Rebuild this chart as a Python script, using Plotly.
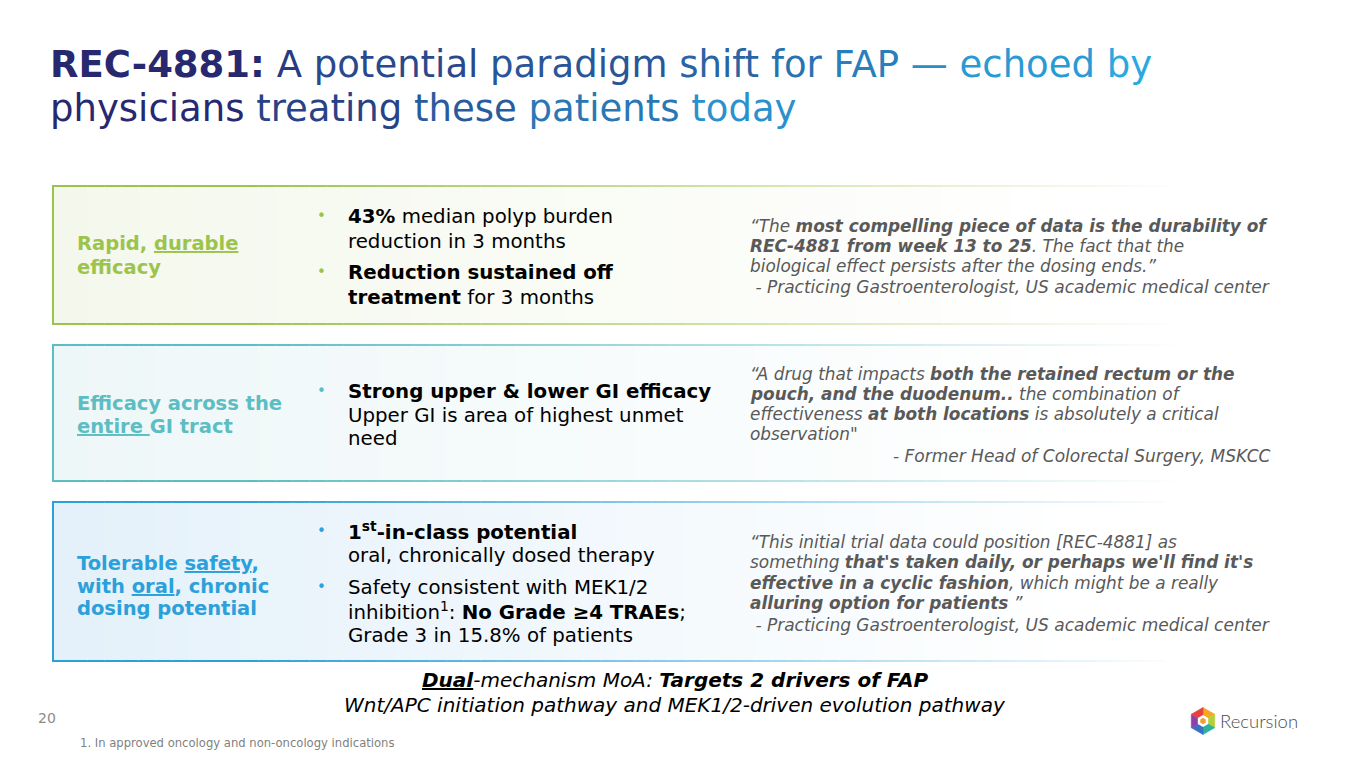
import math
import plotly.graph_objects as go

# ---- slide text ----
TITLE_BOLD = "REC-4881:"
TITLE_LINE1 = "A potential paradigm shift for FAP — echoed by"
TITLE_LINE2 = "physicians treating these patients today"

ROW_LABELS = [
    ["Rapid, <u>durable</u>", "efficacy"],
    ["Efficacy across the", "<u>entire </u>GI tract"],
    ["Tolerable <u>safety</u>,", "with <u>oral</u>, chronic", "dosing potential"],
]
ROW_BULLETS = [
    [["<b>43%</b> median polyp burden", "reduction in 3 months"],
     ["<b>Reduction sustained off</b>", "<b>treatment</b> for 3 months"]],
    [["<b>Strong upper &amp; lower GI efficacy</b>", "Upper GI is area of highest unmet", "need"]],
    [["<b>1<sup>st</sup>-in-class potential</b>", "oral, chronically dosed therapy"],
     ["Safety consistent with MEK1/2", "inhibition<sup>1</sup>: <b>No Grade ≥4 TRAEs</b>;",
      "Grade 3 in 15.8% of patients"]],
]
ROW_QUOTES = [
    ["“The <b>most compelling piece of data is the durability of</b>",
     "<b>REC-4881 from week 13 to 25</b>. The fact that the",
     "biological effect persists after the dosing ends.”"],
    ["“A drug that impacts <b>both the retained rectum or the</b>",
     "<b>pouch, and the duodenum..</b> the combination of",
     "effectiveness <b>at both locations</b> is absolutely a critical",
     "observation\""],
    ["“This initial trial data could position [REC-4881] as",
     "something <b>that's taken daily, or perhaps we'll find it's</b>",
     "<b>effective in a cyclic fashion</b>, which might be a really",
     "<b>alluring option for patients</b> ”"],
]
ROW_SOURCES = [
    " - Practicing Gastroenterologist, US academic medical center",
    "- Former Head of Colorectal Surgery, MSKCC",
    " - Practicing Gastroenterologist, US academic medical center",
]
MOA_LINES = [
    "<b><u>Dual</u></b>-mechanism MoA: <b>Targets 2 drivers of FAP</b>",
    "Wnt/APC initiation pathway and MEK1/2-driven evolution pathway",
]
PAGE_NUMBER = "20"
FOOTNOTE = "1. In approved oncology and non-oncology indications"
LOGO_TEXT = "Recursion"

# ---- styling / placement ----
W, H = 1365, 768
FONT = "DejaVu Sans"
ROW_COLORS = ["#9cc44c", "#5cbdc3", "#2ba0da"]
ROW_TINTS = ["#f4f8ec", "#eef7f8", "#e4f1fa"]
BOX_TOP = [186, 345, 502]
BOX_BOT = [324, 481, 661]
BOX_X0, FADE_X1 = 53, 1250
LABEL_Y = [[243, 267], [403, 426], [563, 586, 608]]
BULLET_Y = [[[216, 241], [272, 297]], [[391, 415, 438]], [[531, 555], [587, 611, 635]]]
QUOTE_Y = [[226, 246, 266, 287], [374, 394, 414, 434, 456], [542, 562, 583, 603, 625]]


def hex2rgb(h):
    h = h.lstrip("#")
    return [int(h[i:i + 2], 16) for i in (0, 2, 4)]


def blend(c1, c2, t):
    a, b = hex2rgb(c1), hex2rgb(c2)
    return "rgb(%d,%d,%d)" % tuple(round(a[i] + (b[i] - a[i]) * t) for i in range(3))


fig = go.Figure()
shapes = []
annotations = []


def text(x, y, s, size=18, color="#000000", anchor="left", italic=False, family=FONT, weight=None):
    f = dict(family=family, size=size, color=color)
    if italic:
        f["style"] = "italic"
    if weight:
        f["weight"] = weight
    annotations.append(dict(x=x, y=y, xref="x", yref="y", text=s, showarrow=False,
                            xanchor=anchor, yanchor="middle", font=f, align=anchor))


# title with a left-to-right colour gradient, word by word
def gradient_words(line, start_t, end_t):
    words = line.split(" ")
    out = []
    for i, w in enumerate(words):
        t = start_t + (end_t - start_t) * i / max(len(words) - 1, 1)
        out.append('<span style="color:%s">%s</span>' % (blend("#282870", "#2aa8e0", t), w))
    return " ".join(out)


title1 = '<b><span style="color:#282870">%s</span></b> ' % TITLE_BOLD + gradient_words(TITLE_LINE1, 0.15, 1.0)
title2 = gradient_words(TITLE_LINE2, 0.0, 0.82)
text(48, 64, title1, size=37)
text(48, 108, title2, size=37)

# gradient boxes
N = 70
step = (FADE_X1 - BOX_X0) / N
for r in range(3):
    y0, y1 = BOX_TOP[r], BOX_BOT[r]
    for i in range(N):
        t = i / (N - 1)
        x0 = BOX_X0 + i * step
        fill = blend(ROW_TINTS[r], "#ffffff", min(1.0, t * 1.15))
        edge = blend(ROW_COLORS[r], "#ffffff", min(1.0, max(0.0, (t - 0.15) * 1.25)))
        shapes.append(dict(type="rect", xref="x", yref="y", x0=x0, x1=x0 + step + 0.6, y0=y0, y1=y1,
                           fillcolor=fill, line=dict(width=0), layer="below"))
        shapes.append(dict(type="rect", xref="x", yref="y", x0=x0, x1=x0 + step + 0.6, y0=y0 - 1, y1=y0 + 1,
                           fillcolor=edge, line=dict(width=0), layer="below"))
        shapes.append(dict(type="rect", xref="x", yref="y", x0=x0, x1=x0 + step + 0.6, y0=y1 - 1, y1=y1 + 1,
                           fillcolor=edge, line=dict(width=0), layer="below"))
    shapes.append(dict(type="rect", xref="x", yref="y", x0=BOX_X0 - 1, x1=BOX_X0 + 1, y0=y0 - 1, y1=y1 + 1,
                       fillcolor=ROW_COLORS[r], line=dict(width=0), layer="below"))

    for line, y in zip(ROW_LABELS[r], LABEL_Y[r]):
        text(75, y, "<b>%s</b>" % line, size=19.5, color=ROW_COLORS[r])

    for bullet, ys in zip(ROW_BULLETS[r], BULLET_Y[r]):
        text(315, ys[0], "•", size=15, color=ROW_COLORS[r])
        for line, y in zip(bullet, ys):
            text(346, y, line, size=19.8)

    qy = QUOTE_Y[r]
    for line, y in zip(ROW_QUOTES[r], qy[:-1]):
        text(748, y, line, size=16.9, color="#595959", italic=True)
    if r == 1:
        text(1273, qy[-1], ROW_SOURCES[r], size=17, color="#595959", italic=True, anchor="right")
    else:
        text(748, qy[-1], ROW_SOURCES[r], size=17, color="#595959", italic=True)

# mechanism line
text(675, 680, MOA_LINES[0], size=20, italic=True, anchor="center")
text(675, 705, MOA_LINES[1], size=20, italic=True, anchor="center")

# footer
text(36, 718, PAGE_NUMBER, size=14, color="#8c8c8c")
text(78, 743, FOOTNOTE, size=11.6, color="#7f7f7f")

# logo hexagon
cx, cy, rad = 1203, 721, 13.5
hex_cols = ["#f5a623", "#b5cf3a", "#2bb39a", "#3a6fc4", "#8e3fa8", "#e8403f"]
pts = [(cx + rad * math.cos(math.radians(-90 + 60 * k)), cy + rad * math.sin(math.radians(-90 + 60 * k)))
       for k in range(7)]
for k in range(6):
    (ax, ay), (bx, by) = pts[k], pts[k + 1]
    shapes.append(dict(type="path", xref="x", yref="y",
                       path="M %.2f %.2f L %.2f %.2f L %.2f %.2f Z" % (cx, cy, ax, ay, bx, by),
                       fillcolor=hex_cols[k], line=dict(width=0.6, color=hex_cols[k])))
inner = [(cx + 6 * math.cos(math.radians(-90 + 60 * k)), cy + 6 * math.sin(math.radians(-90 + 60 * k)))
         for k in range(6)]
shapes.append(dict(type="path", xref="x", yref="y",
                   path="M " + " L ".join("%.2f %.2f" % p for p in inner) + " Z",
                   fillcolor="#ffffff", line=dict(width=0)))
core = [(cx + 3.2 * math.cos(math.radians(-90 + 60 * k)), cy + 3.2 * math.sin(math.radians(-90 + 60 * k)))
        for k in range(6)]
shapes.append(dict(type="path", xref="x", yref="y",
                   path="M " + " L ".join("%.2f %.2f" % p for p in core) + " Z",
                   fillcolor="#f0a030", line=dict(width=0)))
text(1218, 721, LOGO_TEXT, size=18.5, color="#4d4d4d", family="Lato", weight=300)
text(1290, 726, ".", size=7, color="#4d4d4d", family="Lato")

fig.update_layout(
    width=W, height=H,
    margin=dict(l=0, r=0, t=0, b=0),
    paper_bgcolor="white", plot_bgcolor="white",
    xaxis=dict(range=[0, W], visible=False, fixedrange=True),
    yaxis=dict(range=[H, 0], visible=False, fixedrange=True),
    shapes=shapes, annotations=annotations,
    showlegend=False,
)

fig.write_html("out.html", config=dict(displayModeBar=False),
               post_script="document.body.style.margin='0';document.body.style.overflow='hidden';")
